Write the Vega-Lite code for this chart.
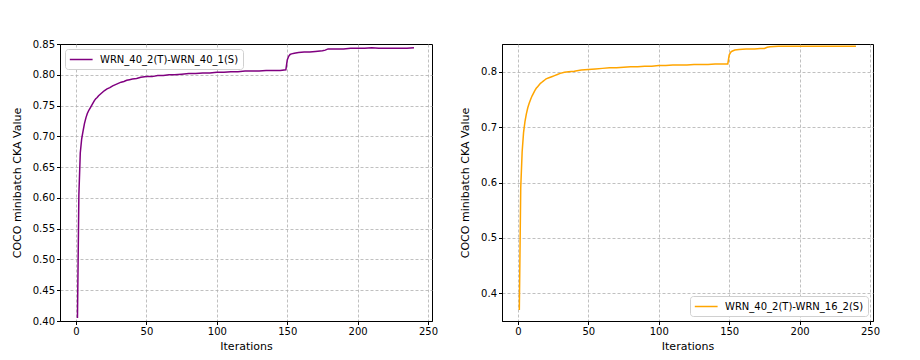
{
  "$schema": "https://vega.github.io/schema/vega-lite/v6.json",
  "padding": {"left": 10, "top": 38, "right": 5, "bottom": 5},
  "background": "white",
  "spacing": 20,
  "config": {
    "font": "DejaVu Sans",
    "view": {"stroke": "black", "strokeWidth": 1},
    "axis": {
      "labelFont": "DejaVu Sans", "titleFont": "DejaVu Sans",
      "labelFontSize": 10, "titleFontSize": 11, "titleFontWeight": "normal",
      "labelColor": "black", "titleColor": "black",
      "domainColor": "black", "tickColor": "black", "tickSize": 3.5, "labelPadding": 2,
      "grid": true, "gridColor": "#b0b0b0", "gridDash": [3, 2], "gridWidth": 0.8
    },
    "legend": {
      "labelFont": "DejaVu Sans", "labelFontSize": 10, "labelColor": "black", "labelLimit": 400,
      "symbolType": "M-1,0H3", "symbolSize": 130, "symbolStrokeWidth": 1.5, "labelOffset": 18,
      "fillColor": "white", "strokeColor": "#d0d0d0", "cornerRadius": 3, "padding": 4,
      "title": null
    }
  },
  "datasets": {
    "a": [
      {"iter":1,"cka":0.405},{"iter":2,"cka":0.605},{"iter":3,"cka":0.673},{"iter":4,"cka":0.696},{"iter":5,"cka":0.709},{"iter":6,"cka":0.721},{"iter":7,"cka":0.730},{"iter":8,"cka":0.737},{"iter":9,"cka":0.742},{"iter":10,"cka":0.746},{"iter":11,"cka":0.750},{"iter":12,"cka":0.754},{"iter":13,"cka":0.758},{"iter":14,"cka":0.761},{"iter":15,"cka":0.763},{"iter":16,"cka":0.766},{"iter":17,"cka":0.768},{"iter":18,"cka":0.770},{"iter":19,"cka":0.772},{"iter":20,"cka":0.774},{"iter":22,"cka":0.777},{"iter":24,"cka":0.779},{"iter":26,"cka":0.782},{"iter":28,"cka":0.784},{"iter":30,"cka":0.786},{"iter":32,"cka":0.788},{"iter":34,"cka":0.789},{"iter":36,"cka":0.791},{"iter":38,"cka":0.792},{"iter":40,"cka":0.793},{"iter":43,"cka":0.794},{"iter":46,"cka":0.796},{"iter":50,"cka":0.797},{"iter":54,"cka":0.797},{"iter":58,"cka":0.799},{"iter":62,"cka":0.799},{"iter":66,"cka":0.800},{"iter":70,"cka":0.800},{"iter":75,"cka":0.801},{"iter":80,"cka":0.802},{"iter":85,"cka":0.802},{"iter":90,"cka":0.803},{"iter":95,"cka":0.803},{"iter":100,"cka":0.804},{"iter":105,"cka":0.804},{"iter":110,"cka":0.805},{"iter":115,"cka":0.805},{"iter":120,"cka":0.806},{"iter":125,"cka":0.806},{"iter":130,"cka":0.806},{"iter":135,"cka":0.807},{"iter":140,"cka":0.807},{"iter":145,"cka":0.807},{"iter":149,"cka":0.808},{"iter":150,"cka":0.824},{"iter":151,"cka":0.830},{"iter":152,"cka":0.833},{"iter":153,"cka":0.834},{"iter":155,"cka":0.835},{"iter":158,"cka":0.836},{"iter":162,"cka":0.837},{"iter":166,"cka":0.837},{"iter":170,"cka":0.838},{"iter":175,"cka":0.839},{"iter":177,"cka":0.840},{"iter":179,"cka":0.842},{"iter":185,"cka":0.842},{"iter":190,"cka":0.842},{"iter":195,"cka":0.843},{"iter":200,"cka":0.843},{"iter":205,"cka":0.843},{"iter":210,"cka":0.844},{"iter":215,"cka":0.843},{"iter":220,"cka":0.843},{"iter":225,"cka":0.843},{"iter":230,"cka":0.843},{"iter":235,"cka":0.843},{"iter":240,"cka":0.844}
    ],
    "b": [
      {"iter":1,"cka":0.370},{"iter":2,"cka":0.590},{"iter":3,"cka":0.655},{"iter":4,"cka":0.690},{"iter":5,"cka":0.710},{"iter":6,"cka":0.724},{"iter":7,"cka":0.735},{"iter":8,"cka":0.743},{"iter":9,"cka":0.750},{"iter":10,"cka":0.756},{"iter":11,"cka":0.761},{"iter":12,"cka":0.766},{"iter":13,"cka":0.770},{"iter":14,"cka":0.773},{"iter":15,"cka":0.776},{"iter":16,"cka":0.779},{"iter":17,"cka":0.781},{"iter":18,"cka":0.783},{"iter":19,"cka":0.785},{"iter":20,"cka":0.787},{"iter":22,"cka":0.789},{"iter":24,"cka":0.791},{"iter":26,"cka":0.793},{"iter":28,"cka":0.795},{"iter":30,"cka":0.797},{"iter":33,"cka":0.799},{"iter":36,"cka":0.800},{"iter":40,"cka":0.801},{"iter":45,"cka":0.803},{"iter":50,"cka":0.804},{"iter":55,"cka":0.805},{"iter":60,"cka":0.806},{"iter":65,"cka":0.807},{"iter":70,"cka":0.807},{"iter":75,"cka":0.808},{"iter":80,"cka":0.809},{"iter":85,"cka":0.809},{"iter":90,"cka":0.810},{"iter":95,"cka":0.810},{"iter":100,"cka":0.811},{"iter":105,"cka":0.811},{"iter":110,"cka":0.812},{"iter":115,"cka":0.812},{"iter":120,"cka":0.812},{"iter":125,"cka":0.813},{"iter":130,"cka":0.813},{"iter":135,"cka":0.813},{"iter":140,"cka":0.814},{"iter":145,"cka":0.814},{"iter":149,"cka":0.814},{"iter":150,"cka":0.830},{"iter":151,"cka":0.835},{"iter":152,"cka":0.837},{"iter":154,"cka":0.839},{"iter":157,"cka":0.840},{"iter":162,"cka":0.841},{"iter":168,"cka":0.841},{"iter":172,"cka":0.842},{"iter":175,"cka":0.842},{"iter":177,"cka":0.844},{"iter":179,"cka":0.845},{"iter":185,"cka":0.846},{"iter":190,"cka":0.846},{"iter":200,"cka":0.846},{"iter":210,"cka":0.846},{"iter":220,"cka":0.846},{"iter":230,"cka":0.846},{"iter":240,"cka":0.846}
    ]
  },
  "resolve": {"scale": {"color": "independent"}, "legend": {"color": "independent"}},
  "hconcat": [
    {
      "width": 372, "height": 277,
      "data": {"name": "a"},
      "transform": [{"calculate": "'WRN_40_2(T)-WRN_40_1(S)'", "as": "series"}],
      "mark": {"type": "line", "strokeWidth": 1.5, "clip": true},
      "encoding": {
        "x": {"field": "iter", "type": "quantitative", "title": "Iterations",
              "scale": {"domain": [-11.4, 252.8], "nice": false, "zero": false},
              "axis": {"values": [0, 50, 100, 150, 200, 250], "titlePadding": 4}},
        "y": {"field": "cka", "type": "quantitative", "title": "COCO minibatch CKA Value",
              "scale": {"domain": [0.40, 0.85], "nice": false, "zero": false},
              "axis": {"values": [0.40, 0.45, 0.50, 0.55, 0.60, 0.65, 0.70, 0.75, 0.80, 0.85], "format": ".2f", "titlePadding": 10,
                       "gridOpacity": {"condition": {"test": "datum.value > 0.849 || datum.value < 0.401", "value": 0}, "value": 1}}},
        "color": {"field": "series", "type": "nominal",
                  "scale": {"domain": ["WRN_40_2(T)-WRN_40_1(S)"], "range": ["#800080"]},
                  "legend": {"orient": "top-left", "offset": 5}}
      }
    },
    {
      "width": 371, "height": 277,
      "data": {"name": "b"},
      "transform": [{"calculate": "'WRN_40_2(T)-WRN_16_2(S)'", "as": "series"}],
      "mark": {"type": "line", "strokeWidth": 1.5, "clip": true},
      "encoding": {
        "x": {"field": "iter", "type": "quantitative", "title": "Iterations",
              "scale": {"domain": [-11.3, 252.1], "nice": false, "zero": false},
              "axis": {"values": [0, 50, 100, 150, 200, 250], "titlePadding": 4}},
        "y": {"field": "cka", "type": "quantitative", "title": "COCO minibatch CKA Value",
              "scale": {"domain": [0.35, 0.85], "nice": false, "zero": false},
              "axis": {"values": [0.4, 0.5, 0.6, 0.7, 0.8], "format": ".1f", "titlePadding": 10}},
        "color": {"field": "series", "type": "nominal",
                  "scale": {"domain": ["WRN_40_2(T)-WRN_16_2(S)"], "range": ["#FFA500"]},
                  "legend": {"orient": "bottom-right", "offset": 5}}
      }
    }
  ]
}
